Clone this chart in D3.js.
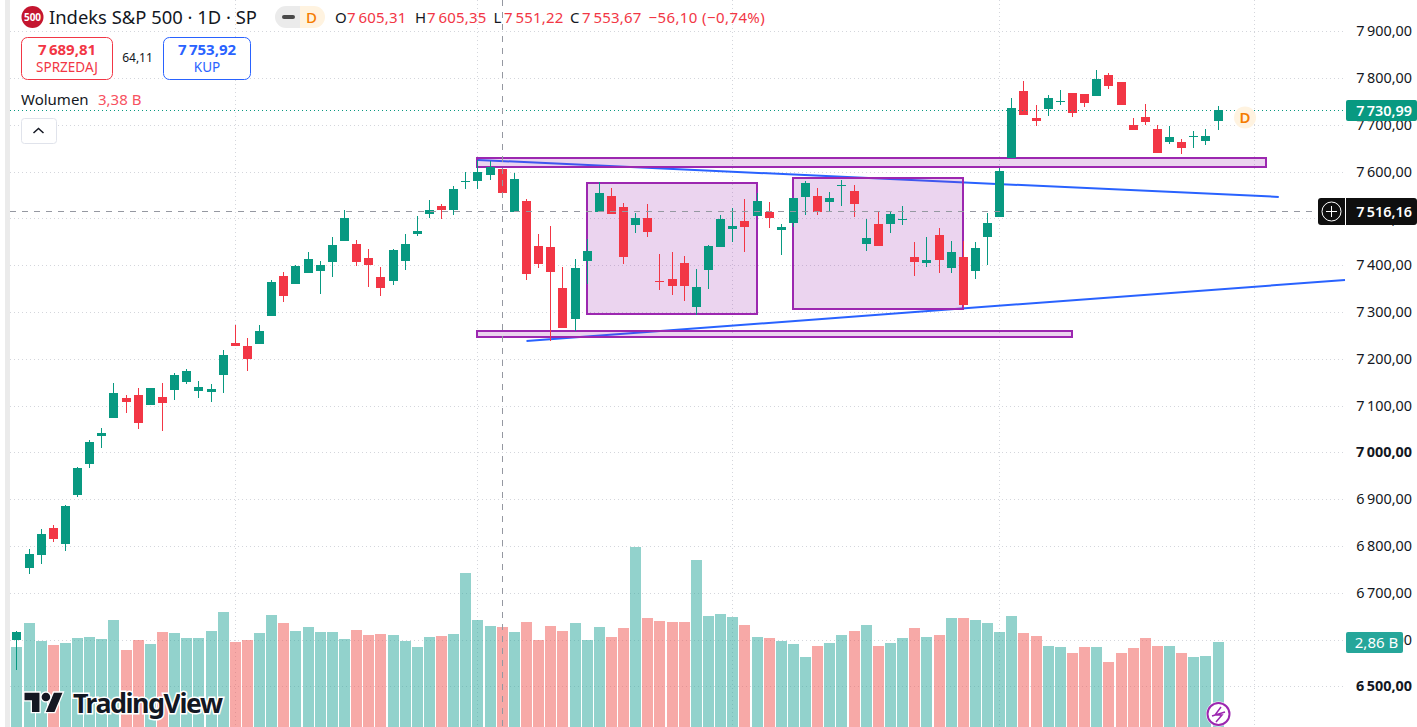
<!DOCTYPE html>
<html>
<head>
<meta charset="utf-8">
<style>
  html, body { margin: 0; padding: 0; background: #fff; overflow: hidden; }
  svg { display: block; }
  text { font-family: "Noto Sans", sans-serif; }
</style>
<script src="https://cdn.jsdelivr.net/npm/d3@7"></script>
</head>
<body>
<div id="chart"></div>
<script>
// daily candles, oldest first
const opens = [6599,6753,6781,6839,6804,6909,6975,7035,7074,7116,7123,7101,7119,7134,7151,7131,7129,7166,7234,7228,
  7232,7292,7377,7360,7384,7388,7407,7452,7445,7416,7375,7366,7409,7467,7510,7527,7518,7578,7580,7593,
  7605.31,7514,7537,7441,7439,7351,7285,7409,7514,7548,7525,7486,7501,7366,7371,7405,7311,7390,7439,7478,
  7495,7505,7514,7475,7490,7546,7548,7535,7571,7559,7446,7488,7488,7498,7418,7405,7465,7394,7418,7388,
  7460,7503,7629,7772,7715,7734,7750,7768,7766,7762,7807,7792,7700,7717,7691,7663,7663,7676,7666,7708];
const highs = [6618,6794,6836,6845,6888,6969,7027,7052,7148,7123,7138,7138,7148,7170,7178,7153,7146,7219,7272,7245,
  7272,7369,7386,7401,7428,7409,7460,7518,7454,7435,7396,7435,7467,7505,7540,7531,7569,7599,7625,7623,
  7605.35,7597,7542,7467,7484,7396,7413,7456,7578,7565,7533,7512,7531,7424,7428,7420,7392,7443,7508,7522,
  7542,7554,7535,7488,7544,7580,7565,7557,7582,7572,7499,7514,7514,7527,7450,7460,7480,7452,7452,7450,
  7512,7608,7758,7794,7743,7764,7775,7768,7766,7817,7811,7792,7715,7745,7700,7698,7670,7687,7691,7740];
const lows = [6535,6740,6762,6809,6789,6905,6967,7010,7074,7084,7050,7101,7046,7112,7146,7116,7108,7127,7228,7174,
  7232,7292,7322,7360,7384,7339,7375,7452,7399,7354,7334,7358,7390,7463,7501,7499,7508,7563,7563,7582,
  7551.22,7514,7369,7394,7238,7266,7260,7360,7514,7510,7403,7469,7460,7347,7337,7324,7294,7349,7439,7450,
  7428,7505,7480,7422,7482,7508,7508,7514,7527,7503,7431,7441,7469,7486,7377,7396,7384,7384,7311,7371,
  7401,7503,7629,7721,7698,7719,7743,7717,7738,7762,7777,7743,7689,7700,7640,7659,7638,7651,7657,7689];
const closes = [6616,6783,6826,6815,6886,6967,7022,7042,7127,7108,7063,7138,7106,7166,7174,7140,7136,7208,7228,7200,
  7260,7364,7334,7399,7413,7401,7443,7501,7407,7401,7351,7433,7446,7473,7518,7518,7563,7580,7599,7610,
  7553.67,7584,7381,7403,7386,7266,7394,7431,7554,7510,7418,7501,7471,7364,7356,7356,7354,7441,7499,7484,
  7482,7537,7501,7482,7544,7576,7514,7544,7572,7531,7458,7441,7510,7499,7407,7411,7411,7428,7315,7437,
  7490,7602,7736,7721,7708,7758,7751,7725,7747,7798,7783,7743,7689,7706,7640,7674,7651,7677,7676,7730.99];
// volume in billions
const volumes = [2.69,3.49,2.89,2.76,2.82,2.99,3.02,2.96,3.60,2.59,2.92,2.79,3.19,3.16,2.99,2.99,3.23,3.86,2.86,2.92,
  3.16,3.76,3.49,3.23,3.36,3.19,3.19,2.96,3.26,3.09,3.12,3.09,2.89,2.69,3.02,3.06,3.12,5.17,3.60,3.39,
  3.38,3.19,3.53,2.92,3.39,3.23,3.49,2.92,3.36,3.02,3.33,6.05,3.66,3.56,3.53,3.53,5.61,3.73,3.80,3.70,
  3.43,3.02,2.99,2.89,2.79,2.35,2.72,2.82,3.09,3.23,3.43,2.72,2.82,2.99,3.33,3.02,3.09,3.66,3.66,3.60,
  3.49,3.19,3.73,3.16,3.06,2.72,2.69,2.49,2.69,2.69,2.18,2.49,2.65,2.99,2.72,2.72,2.49,2.35,2.39,2.86];

const priceTicks = [7900,7800,7700,7600,7500,7400,7300,7200,7100,7000,6900,6800,6700,6600,6500];
const boldTicks = [7000,6500];
const timeGrid = [18,38,59,81,102];

// drawings, as [bar from, bar to, price top, price bottom]
const zones = [[38,103,7629,7610],[38,87,7260,7247],[47,61,7576,7296],[64,78,7586.5,7306.5]];
// as [bar, price, bar, price]
const trendLines = [[38,7625,104,7546],[42,7238,109.46,7368.5]];

const lastPrice = 7730.99, crossPrice = 7516.16, crossBar = 40, lastVolume = 2.86;

const title = "Indeks S&P 500 · 1D · SP";
const ohlc = [["O",7605.31,335,347],["H",7605.35,415,427],["L",7551.22,493.5,504],["C",7553.67,570,582]];
const change = "−56,10 (−0,74%)";

const width = 1417, height = 727, paneRight = 1345;
const green = "#089981", red = "#F23645", blue = "#2962FF", purple = "#9C27B0", ink = "#131722";

const x = d3.scaleLinear().domain([0, 99]).range([16.9, 1218.07]);
const y = d3.scaleLinear().domain([6500, 7900]).range([686.3, 31.3]);
const yVol = d3.scaleLinear().domain([0, 6.2]).range([727, 542.7]);
const bar = i => Math.floor(x(i));
const fmt = d3.formatLocale({decimal: ",", thousands: "\u2009", grouping: [3], currency: ["", ""]}).format(",.2f");

const svg = d3.select("#chart").append("svg").attr("width", width).attr("height", height);

// strip on the left edge
svg.append("rect").attr("x", 5).attr("y", 0).attr("width", 5).attr("height", height).attr("fill", "#ebebeb");

// grid
const grid = svg.append("g").attr("stroke", "#d4d6dc").attr("stroke-dasharray", "1 3");
grid.selectAll(".h").data(priceTicks).enter().append("line")
  .attr("x1", 10).attr("x2", paneRight)
  .attr("y1", d => Math.round(y(d)) + 0.5).attr("y2", d => Math.round(y(d)) + 0.5);
grid.selectAll(".v").data(timeGrid).enter().append("line")
  .attr("x1", d => bar(d) + 0.5).attr("x2", d => bar(d) + 0.5)
  .attr("y1", 0).attr("y2", height);

// volume
svg.append("g").selectAll("rect").data(volumes).enter().append("rect")
  .attr("x", (d, i) => bar(i) - 5)
  .attr("width", 11)
  .attr("y", d => Math.round(yVol(d)))
  .attr("height", d => height - Math.round(yVol(d)))
  .attr("fill", (d, i) => closes[i] >= opens[i] ? "#26A69A" : "#EF5350")
  .attr("opacity", 0.5);

// trend lines sit under the zones
svg.append("g").selectAll("line").data(trendLines).enter().append("line")
  .attr("x1", d => x(d[0])).attr("y1", d => y(d[1]))
  .attr("x2", d => x(d[2])).attr("y2", d => y(d[3]))
  .attr("stroke", blue).attr("stroke-width", 2);

svg.append("g").selectAll("rect").data(zones).enter().append("rect")
  .attr("x", d => bar(d[0]))
  .attr("width", d => bar(d[1]) - bar(d[0]))
  .attr("y", d => Math.round(y(d[2])))
  .attr("height", d => Math.round(y(d[3])) - Math.round(y(d[2])))
  .attr("fill", purple).attr("fill-opacity", 0.2)
  .attr("stroke", purple).attr("stroke-width", 2);

// candles
const candles = svg.append("g").selectAll("g").data(d3.range(opens.length)).enter().append("g")
  .attr("fill", i => closes[i] >= opens[i] ? green : red);
candles.append("rect")
  .attr("x", i => bar(i)).attr("width", 1)
  .attr("y", i => Math.round(y(highs[i])))
  .attr("height", i => Math.max(1, Math.round(y(lows[i])) - Math.round(y(highs[i]))));
candles.append("rect")
  .attr("x", i => bar(i) - 4).attr("width", 9)
  .attr("y", i => Math.round(y(Math.max(opens[i], closes[i]))))
  .attr("height", i => Math.max(1, Math.round(y(Math.min(opens[i], closes[i]))) - Math.round(y(Math.max(opens[i], closes[i])))));

// last price line
svg.append("line").attr("x1", 10).attr("x2", paneRight)
  .attr("y1", Math.round(y(lastPrice)) + 0.5).attr("y2", Math.round(y(lastPrice)) + 0.5)
  .attr("stroke", green).attr("stroke-dasharray", "1 3");

// crosshair
const cross = svg.append("g").attr("stroke", "#9598A1").attr("stroke-dasharray", "6 6");
cross.append("line").attr("x1", 10).attr("x2", 1318)
  .attr("y1", Math.round(y(crossPrice)) + 0.5).attr("y2", Math.round(y(crossPrice)) + 0.5);
cross.append("line").attr("x1", bar(crossBar) + 0.5).attr("x2", bar(crossBar) + 0.5)
  .attr("y1", 0).attr("y2", height);

// price axis
const axis = svg.append("g").attr("transform", `translate(1412,0)`)
  .call(d3.axisLeft(y).tickValues(priceTicks).tickFormat(fmt).tickSize(0).tickPadding(0));
axis.select(".domain").remove();
axis.selectAll("text")
  .style("font-family", '"Noto Sans", sans-serif')
  .style("font-size", "14.4px")
  .style("font-weight", d => boldTicks.includes(d) ? 700 : 400)
  .attr("fill", ink);

// price and volume labels on the axis
svg.append("rect").attr("x", 1346).attr("y", 100).attr("width", 71).attr("height", 21).attr("rx", 2).attr("fill", green);
svg.append("text").attr("x", 1412).attr("y", 115.5).attr("text-anchor", "end")
  .attr("fill", "#fff").attr("font-size", 14.4).attr("font-weight", 600).text(fmt(lastPrice));

svg.append("rect").attr("x", 1318).attr("y", 198).attr("width", 99).attr("height", 27).attr("rx", 3).attr("fill", "#0f0f0f");
svg.append("rect").attr("x", 1345).attr("y", 198).attr("width", 1).attr("height", 27).attr("fill", "#fff");
svg.append("text").attr("x", 1412).attr("y", 216.5).attr("text-anchor", "end")
  .attr("fill", "#fff").attr("font-size", 14.4).attr("font-weight", 600).text(fmt(crossPrice));
svg.append("circle").attr("cx", 1331.5).attr("cy", 211.5).attr("r", 9.5).attr("fill", "none").attr("stroke", "#fff");
svg.append("path").attr("d", "M1331.5 206V217M1326 211.5H1337").attr("stroke", "#fff").attr("fill", "none");

svg.append("rect").attr("x", 1346).attr("y", 632).attr("width", 57).attr("height", 21).attr("rx", 2).attr("fill", "#26A69A");
svg.append("text").attr("x", 1376.5).attr("y", 647.5).attr("text-anchor", "middle")
  .attr("fill", "#fff").attr("font-size", 15).text(`${lastVolume.toFixed(2).replace(".", ",")} B`);

// legend row
svg.append("circle").attr("cx", 32.5).attr("cy", 17).attr("r", 11).attr("fill", "#C4152F");
svg.append("text").attr("x", 32.5).attr("y", 20.5).attr("text-anchor", "middle")
  .attr("fill", "#fff").attr("font-size", 10).attr("font-weight", 700).text("500");
svg.append("text").attr("x", 49).attr("y", 24).attr("font-size", 18.4).attr("fill", ink).text(title);

svg.append("path").attr("d", "M286 6H300V28H286A11 11 0 0 1 286 6Z").attr("fill", "#ebebeb");
svg.append("path").attr("d", "M300 6H314A11 11 0 0 1 314 28H300Z").attr("fill", "#FFF3E0");
svg.append("rect").attr("x", 282).attr("y", 15).attr("width", 13).attr("height", 4).attr("rx", 2).attr("fill", "#4a4a4a");
svg.append("text").attr("x", 311.5).attr("y", 22.5).attr("text-anchor", "middle")
  .attr("fill", "#F57C00").attr("font-size", 15).attr("font-weight", 500).text("D");

ohlc.forEach(d => {
  svg.append("text").attr("x", d[2]).attr("y", 23).attr("font-size", 15).attr("fill", ink).text(d[0]);
  svg.append("text").attr("x", d[3]).attr("y", 23).attr("font-size", 15).attr("letter-spacing", 0.2)
    .attr("fill", red).text(fmt(d[1]));
});
svg.append("text").attr("x", 648.5).attr("y", 23).attr("font-size", 15).attr("letter-spacing", 0.4)
  .attr("fill", red).text(change);

// sell / buy buttons
svg.append("rect").attr("x", 21.5).attr("y", 37.5).attr("width", 91).attr("height", 42).attr("rx", 6)
  .attr("fill", "#fff").attr("stroke", red);
svg.append("text").attr("x", 67).attr("y", 55).attr("text-anchor", "middle")
  .attr("fill", red).attr("font-size", 15).attr("font-weight", 700).text("7\u2009689,81");
svg.append("text").attr("x", 67).attr("y", 72).attr("text-anchor", "middle")
  .attr("fill", red).attr("font-size", 13.5).text("SPRZEDAJ");
svg.append("text").attr("x", 137.5).attr("y", 62).attr("text-anchor", "middle")
  .attr("fill", ink).attr("font-size", 12).text("64,11");
svg.append("rect").attr("x", 163.5).attr("y", 37.5).attr("width", 87).attr("height", 42).attr("rx", 6)
  .attr("fill", "#fff").attr("stroke", blue);
svg.append("text").attr("x", 207).attr("y", 55).attr("text-anchor", "middle")
  .attr("fill", blue).attr("font-size", 15).attr("font-weight", 700).text("7\u2009753,92");
svg.append("text").attr("x", 207).attr("y", 72).attr("text-anchor", "middle")
  .attr("fill", blue).attr("font-size", 13.5).text("KUP");

// volume legend
svg.append("text").attr("x", 21).attr("y", 105).attr("font-size", 15).attr("fill", ink).text("Wolumen");
svg.append("text").attr("x", 98).attr("y", 105).attr("font-size", 15).attr("fill", "#F7525F").text("3,38 B");

// collapse button
svg.append("rect").attr("x", 21.5).attr("y", 118.5).attr("width", 35).attr("height", 25).attr("rx", 3)
  .attr("fill", "#fff").attr("stroke", "#E0E3EB");
svg.append("path").attr("d", "M33.5 133L38.5 128.5L43.5 133").attr("fill", "none").attr("stroke", ink).attr("stroke-width", 1.5);

// dividend marker
svg.append("circle").attr("cx", 1245).attr("cy", 117.5).attr("r", 11).attr("fill", "#FFF3E0");
svg.append("text").attr("x", 1245).attr("y", 123).attr("text-anchor", "middle")
  .attr("fill", "#F57C00").attr("font-size", 15).attr("font-weight", 600).text("D");

// lightning badge
svg.append("circle").attr("cx", 1218.5).attr("cy", 714).attr("r", 12.5).attr("fill", "#fff");
svg.append("circle").attr("cx", 1218.5).attr("cy", 714).attr("r", 11).attr("fill", "#fff").attr("stroke", purple).attr("stroke-width", 2);
svg.append("path").attr("d", "M1221 707L1215 715H1222L1216 722M1212 716L1225 712").attr("fill", "none").attr("stroke", purple).attr("stroke-width", 1.5);

// watermark
const logo = svg.append("g").attr("transform", "translate(24.5,688.4) scale(1.07)").attr("fill", ink)
  .attr("stroke", "#fff").attr("stroke-width", 2.5).attr("paint-order", "stroke");
logo.append("path").attr("d", "M14 22H7V11H0V4h14v18zM28 22h-8l7.5-18h8L28 22z");
logo.append("circle").attr("cx", 20).attr("cy", 8).attr("r", 4);
svg.append("text").attr("x", 73).attr("y", 713).attr("font-size", 27).attr("font-weight", 700)
  .attr("fill", ink).attr("stroke", "#fff").attr("stroke-width", 3).attr("paint-order", "stroke")
  .attr("textLength", 150).text("TradingView");
</script>
</body>
</html>
